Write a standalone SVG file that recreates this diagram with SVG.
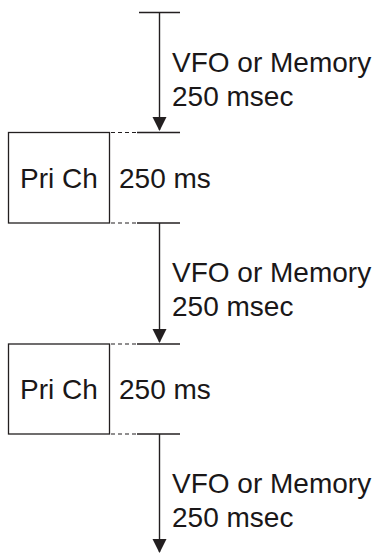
<svg xmlns="http://www.w3.org/2000/svg" width="376" height="554" viewBox="0 0 376 554">
<defs>
<style>
.ln{stroke:#231f20;stroke-width:1.4;fill:none}
.dot{stroke:#231f20;stroke-width:1.2;fill:none;stroke-dasharray:4 3}
.box{stroke:#231f20;stroke-width:1.3;fill:#fff}
.t{font-family:"Liberation Sans",Arial,Helvetica,sans-serif;font-size:28px;fill:#1a1718}
.head{fill:#231f20}
</style>
</defs>
<g id="connectors">
<line class="ln" x1="139" y1="12.5" x2="180" y2="12.5"/>
<line class="ln" x1="159.5" y1="12.5" x2="159.5" y2="130"/>
<path class="head" d="M152.5,117 L166.5,117 L159.5,131 Z"/>
<line class="dot" x1="111" y1="132.5" x2="137" y2="132.5"/>
<line class="ln" x1="137" y1="132.5" x2="180" y2="132.5"/>
<line class="dot" x1="111" y1="223" x2="137" y2="223"/>
<line class="ln" x1="137" y1="223" x2="180" y2="223"/>
<line class="ln" x1="159.5" y1="223" x2="159.5" y2="342"/>
<path class="head" d="M152.5,329 L166.5,329 L159.5,343 Z"/>
<line class="dot" x1="111" y1="344" x2="137" y2="344"/>
<line class="ln" x1="137" y1="344" x2="180" y2="344"/>
<line class="dot" x1="111" y1="434" x2="137" y2="434"/>
<line class="ln" x1="137" y1="434" x2="180" y2="434"/>
<line class="ln" x1="159.5" y1="434" x2="159.5" y2="552"/>
<path class="head" d="M152.5,539 L166.5,539 L159.5,553 Z"/>
</g>
<g id="label1">
<text class="t" x="172" y="72">VFO or Memory</text>
<text class="t" x="172" y="106">250 msec</text>
</g>
<g id="pri1">
<rect class="box" x="8.5" y="132.5" width="101" height="90.5"/>
<text class="t" x="20" y="188">Pri Ch</text>
<text class="t" x="119" y="188">250 ms</text>
</g>
<g id="label2">
<text class="t" x="172" y="282">VFO or Memory</text>
<text class="t" x="172" y="316">250 msec</text>
</g>
<g id="pri2">
<rect class="box" x="8.5" y="344" width="101" height="90"/>
<text class="t" x="20" y="399">Pri Ch</text>
<text class="t" x="119" y="399">250 ms</text>
</g>
<g id="label3">
<text class="t" x="172" y="493">VFO or Memory</text>
<text class="t" x="172" y="527">250 msec</text>
</g>
</svg>
